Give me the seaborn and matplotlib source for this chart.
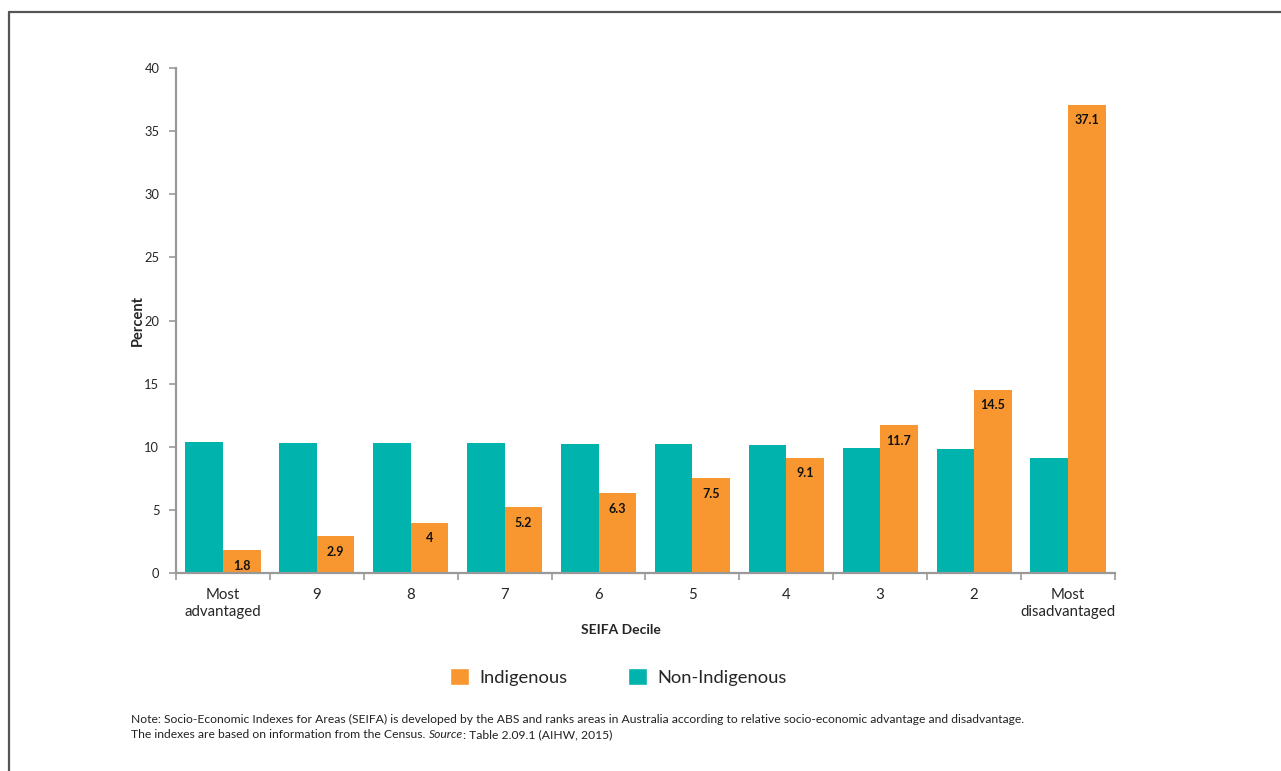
import pandas as pd
import matplotlib.pyplot as plt
import seaborn as sns
from matplotlib.lines import Line2D
from matplotlib.patches import Patch

deciles = ['Most\nadvantaged', '9', '8', '7', '6', '5', '4', '3', '2', 'Most\ndisadvantaged']
indigenous = [1.8, 2.9, 4, 5.2, 6.3, 7.5, 9.1, 11.7, 14.5, 37.1]
non_indigenous = [10.4, 10.3, 10.3, 10.3, 10.2, 10.2, 10.1, 9.9, 9.8, 9.1]

TEAL = '#00B3AD'
ORANGE = '#F8972F'
GREY = '#999999'

df = pd.DataFrame({
    'Decile': deciles * 2,
    'Percent': non_indigenous + indigenous,
    'Group': ['Non-Indigenous'] * len(deciles) + ['Indigenous'] * len(deciles),
})

sns.set_style('white')
plt.rcParams['font.family'] = ['Lato', 'DejaVu Sans']

fig = plt.figure(figsize=(12.81, 7.71), dpi=100)
ax = fig.add_axes([0.1374, 0.2568, 0.7330, 0.655])

sns.barplot(data=df, x='Decile', y='Percent', hue='Group',
            hue_order=['Non-Indigenous', 'Indigenous'],
            palette={'Non-Indigenous': TEAL, 'Indigenous': ORANGE},
            width=0.8, saturation=1, edgecolor='none', legend=False, ax=ax)

# value labels inside the orange bars
for bar, v in zip(ax.containers[1], indigenous):
    ax.annotate(f'{v:g}', xy=(bar.get_x() + bar.get_width() / 2, bar.get_height()),
                xytext=(0, -11), textcoords='offset points',
                ha='center', va='center', fontsize=9, fontweight='bold', color='#111111')

ax.set_xlim(-0.5, len(deciles) - 0.5)
ax.set_ylim(0, 40)
ax.set_yticks(range(0, 41, 5))

# ticks between categories, labels centred
ax.set_xticks([i - 0.5 for i in range(len(deciles) + 1)], minor=True)
ax.tick_params(axis='x', which='major', length=0, pad=11, labelsize=10.8)
ax.tick_params(axis='x', which='minor', length=5, width=1.2, color=GREY, direction='out')
ax.tick_params(axis='y', length=5, width=1.2, color=GREY, direction='out', labelsize=9.3, pad=7)
ax.tick_params(axis='x', which='minor', bottom=True)
ax.tick_params(axis='y', left=True)
for lbl in ax.get_xticklabels():
    lbl.set_linespacing(1.25)

for s in ['top', 'right']:
    ax.spines[s].set_visible(False)
for s in ['left', 'bottom']:
    ax.spines[s].set_color(GREY)
    ax.spines[s].set_linewidth(1.6)

ax.set_xlabel('SEIFA Decile', fontsize=10, fontweight='bold')
ax.set_ylabel('Percent', fontsize=10.5, fontweight='bold')
ax.xaxis.set_label_coords(0.474, -0.10)
ax.yaxis.set_label_coords(-0.033, 0.5)

handles = [Patch(facecolor=ORANGE, label='Indigenous'),
           Patch(facecolor=TEAL, label='Non-Indigenous')]
fig.legend(handles=handles, loc='center', bbox_to_anchor=(618 / 1281, 1 - 677 / 771),
           ncol=2, frameon=False, fontsize=13.2, handlelength=1.05, handleheight=1.05,
           handletextpad=0.55, columnspacing=3.3)

note_kw = dict(fontsize=8.7, va='center', ha='left', color='#222222')
fig.text(131 / 1281, 1 - 719 / 771,
         'Note: Socio-Economic Indexes for Areas (SEIFA) is developed by the ABS and ranks areas in Australia '
         'according to relative socio-economic advantage and disadvantage.', **note_kw)
t1 = fig.text(131 / 1281, 1 - 735 / 771, 'The indexes are based on information from the Census. ', **note_kw)
t2 = ax.annotate('Source', xy=(1, 0), xycoords=t1, va='bottom', ha='left',
                 fontsize=8.7, fontstyle='italic', color='#222222')
ax.annotate(': Table 2.09.1 (AIHW, 2015)', xy=(1, 0), xycoords=t2, va='bottom', ha='left',
            fontsize=8.7, color='#222222')

# page frame (top and left edges visible)
fig.add_artist(Line2D([9 / 1281, 1.0], [1 - 12 / 771, 1 - 12 / 771], color='#555555', lw=1.6))
fig.add_artist(Line2D([9 / 1281, 9 / 1281], [0, 1 - 12 / 771], color='#555555', lw=1.6))

fig.savefig('out.png', dpi=100)
